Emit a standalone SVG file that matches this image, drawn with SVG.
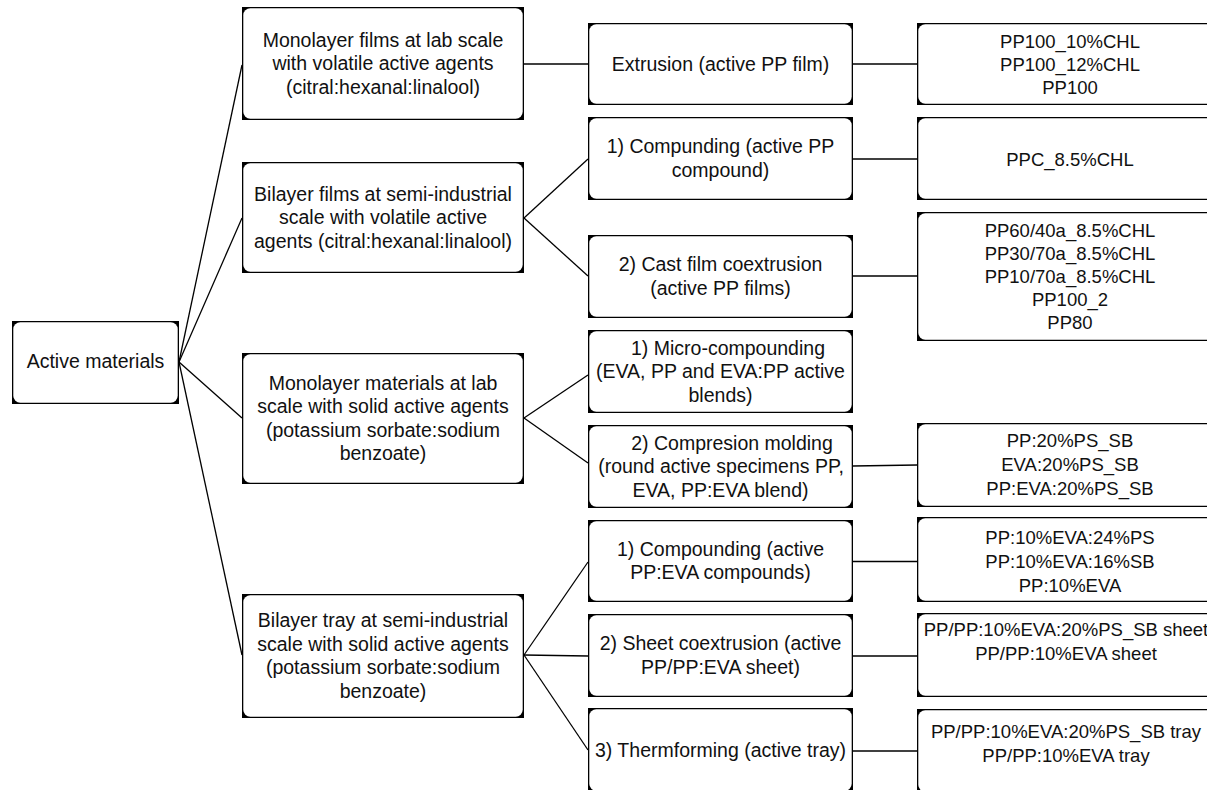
<svg xmlns="http://www.w3.org/2000/svg" width="1207" height="790" viewBox="0 0 1207 790">
<style>
.o{fill:#000}
.i{fill:#fff}
text{font-family:"Liberation Sans",Arial,sans-serif;font-size:19.5px;fill:#111;text-anchor:middle}
.s text{font-size:18.5px}
#connectors line{stroke:#000;stroke-width:1.3;fill:none}
</style>
<rect x="0" y="0" width="1207" height="790" fill="#fff"/>
<g id="connectors">
<line x1="179" y1="362" x2="242" y2="65"/>
<line x1="179" y1="362" x2="242" y2="218"/>
<line x1="179" y1="362" x2="242" y2="418"/>
<line x1="179" y1="362" x2="242" y2="655"/>
<line x1="524" y1="64" x2="588" y2="64"/>
<line x1="524" y1="218" x2="588" y2="159"/>
<line x1="524" y1="218" x2="588" y2="276"/>
<line x1="524" y1="418" x2="588" y2="375"/>
<line x1="524" y1="418" x2="588" y2="463"/>
<line x1="524" y1="655" x2="588" y2="562"/>
<line x1="524" y1="655" x2="588" y2="656"/>
<line x1="524" y1="655" x2="588" y2="750"/>
<line x1="853" y1="64" x2="917" y2="64"/>
<line x1="853" y1="159" x2="917" y2="159"/>
<line x1="853" y1="276" x2="917" y2="276"/>
<line x1="853" y1="466" x2="917" y2="465"/>
<line x1="853" y1="561.5" x2="917" y2="561.5"/>
<line x1="853" y1="656" x2="917" y2="656"/>
<line x1="853" y1="751" x2="917" y2="751"/>
</g>
<g id="n-active">
<rect class="o" x="12" y="321" width="167" height="83"/><rect class="i" x="13.3" y="322.3" width="164.4" height="80.4" rx="7"/>
<text x="95.5" y="368">Active materials</text>
</g>
<g id="n-mono-films">
<rect class="o" x="242" y="7" width="282" height="113"/><rect class="i" x="243.3" y="8.3" width="279.4" height="110.4" rx="7"/>
<text x="383" y="46.5">Monolayer films at lab scale</text>
<text x="383" y="70">with volatile active agents</text>
<text x="383" y="93.5">(citral:hexanal:linalool)</text>
</g>
<g id="n-bi-films">
<rect class="o" x="242" y="162" width="282" height="111"/><rect class="i" x="243.3" y="163.3" width="279.4" height="108.4" rx="7"/>
<text x="383" y="200.5">Bilayer films at semi-industrial</text>
<text x="383" y="224">scale with volatile active</text>
<text x="383" y="247.5">agents (citral:hexanal:linalool)</text>
</g>
<g id="n-mono-mat">
<rect class="o" x="242" y="353" width="282" height="131"/><rect class="i" x="243.3" y="354.3" width="279.4" height="128.4" rx="7"/>
<text x="383" y="389.75">Monolayer materials at lab</text>
<text x="383" y="413.25">scale with solid active agents</text>
<text x="383" y="436.75">(potassium sorbate:sodium</text>
<text x="383" y="460.25">benzoate)</text>
</g>
<g id="n-bi-tray">
<rect class="o" x="242" y="594" width="282" height="124"/><rect class="i" x="243.3" y="595.3" width="279.4" height="121.4" rx="7"/>
<text x="383" y="627.25">Bilayer tray at semi-industrial</text>
<text x="383" y="650.75">scale with solid active agents</text>
<text x="383" y="674.25">(potassium sorbate:sodium</text>
<text x="383" y="697.75">benzoate)</text>
</g>
<g id="n-extrusion">
<rect class="o" x="588" y="23" width="265" height="82"/><rect class="i" x="589.3" y="24.3" width="262.4" height="79.4" rx="7"/>
<text x="720.5" y="70.5">Extrusion (active PP film)</text>
</g>
<g id="n-compunding">
<rect class="o" x="588" y="117" width="265" height="83"/><rect class="i" x="589.3" y="118.3" width="262.4" height="80.4" rx="7"/>
<text x="720.5" y="153.25">1) Compunding (active PP</text>
<text x="720.5" y="176.75">compound)</text>
</g>
<g id="n-cast">
<rect class="o" x="588" y="235" width="265" height="83"/><rect class="i" x="589.3" y="236.3" width="262.4" height="80.4" rx="7"/>
<text x="720.5" y="271.25">2) Cast film coextrusion</text>
<text x="720.5" y="294.75">(active PP films)</text>
</g>
<g id="n-micro">
<rect class="o" x="588" y="330" width="265" height="83"/><rect class="i" x="589.3" y="331.3" width="262.4" height="80.4" rx="7"/>
<text x="728" y="354.5">1) Micro-compounding</text>
<text x="720.5" y="378">(EVA, PP and EVA:PP active</text>
<text x="720.5" y="401.5">blends)</text>
</g>
<g id="n-compresion">
<rect class="o" x="588" y="425" width="265" height="83"/><rect class="i" x="589.3" y="426.3" width="262.4" height="80.4" rx="7"/>
<text x="732" y="449.5">2) Compresion molding</text>
<text x="721" y="473">(round active specimens PP,</text>
<text x="720.5" y="496.5">EVA, PP:EVA blend)</text>
</g>
<g id="n-compounding">
<rect class="o" x="588" y="520" width="265" height="82"/><rect class="i" x="589.3" y="521.3" width="262.4" height="79.4" rx="7"/>
<text x="720.5" y="555.75">1) Compounding (active</text>
<text x="720.5" y="579.25">PP:EVA compounds)</text>
</g>
<g id="n-sheet">
<rect class="o" x="588" y="614" width="265" height="83"/><rect class="i" x="589.3" y="615.3" width="262.4" height="80.4" rx="7"/>
<text x="720.5" y="650.25">2) Sheet coextrusion (active</text>
<text x="720.5" y="673.75">PP/PP:EVA sheet)</text>
</g>
<g id="n-therm">
<rect class="o" x="588" y="708" width="265" height="84"/><rect class="i" x="589.3" y="709.3" width="262.4" height="81.4" rx="7"/>
<text x="720.5" y="756.5">3) Thermforming (active tray)</text>
</g>
<g id="r-pp100" class="s">
<rect class="o" x="917" y="23" width="306" height="82"/><rect class="i" x="918.3" y="24.3" width="303.4" height="79.4" rx="7"/>
<text x="1070" y="48">PP100_10%CHL</text>
<text x="1070" y="71">PP100_12%CHL</text>
<text x="1070" y="94">PP100</text>
</g>
<g id="r-ppc" class="s">
<rect class="o" x="917" y="117" width="306" height="83"/><rect class="i" x="918.3" y="118.3" width="303.4" height="80.4" rx="7"/>
<text x="1070" y="166">PPC_8.5%CHL</text>
</g>
<g id="r-cast" class="s">
<rect class="o" x="917" y="212" width="306" height="129"/><rect class="i" x="918.3" y="213.3" width="303.4" height="126.4" rx="7"/>
<text x="1070" y="237">PP60/40a_8.5%CHL</text>
<text x="1070" y="260">PP30/70a_8.5%CHL</text>
<text x="1070" y="283">PP10/70a_8.5%CHL</text>
<text x="1070" y="306">PP100_2</text>
<text x="1070" y="329">PP80</text>
</g>
<g id="r-ps-sb" class="s">
<rect class="o" x="917" y="423" width="306" height="84"/><rect class="i" x="918.3" y="424.3" width="303.4" height="81.4" rx="7"/>
<text x="1070" y="447">PP:20%PS_SB</text>
<text x="1070" y="471">EVA:20%PS_SB</text>
<text x="1070" y="495">PP:EVA:20%PS_SB</text>
</g>
<g id="r-eva" class="s">
<rect class="o" x="917" y="517" width="306" height="85"/><rect class="i" x="918.3" y="518.3" width="303.4" height="82.4" rx="7"/>
<text x="1070" y="543.5">PP:10%EVA:24%PS</text>
<text x="1070" y="567.5">PP:10%EVA:16%SB</text>
<text x="1070" y="591.5">PP:10%EVA</text>
</g>
<g id="r-sheet" class="s">
<rect class="o" x="917" y="613" width="306" height="84"/><rect class="i" x="918.3" y="614.3" width="303.4" height="81.4" rx="7"/>
<text x="1066" y="636">PP/PP:10%EVA:20%PS_SB sheet</text>
<text x="1066" y="659.5">PP/PP:10%EVA sheet</text>
</g>
<g id="r-tray" class="s">
<rect class="o" x="917" y="709" width="306" height="84"/><rect class="i" x="918.3" y="710.3" width="303.4" height="81.4" rx="7"/>
<text x="1066" y="738">PP/PP:10%EVA:20%PS_SB tray</text>
<text x="1066" y="761.5">PP/PP:10%EVA tray</text>
</g>
</svg>
